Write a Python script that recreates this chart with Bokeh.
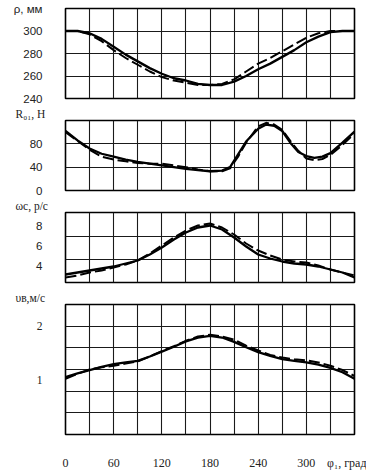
from bokeh.plotting import figure
from bokeh.models import FixedTicker, Range1d, Title
from bokeh.layouts import column
from bokeh.embed import file_html
from bokeh.resources import INLINE

# ---- data ----
phi = [0, 15, 30, 45, 60, 75, 90, 105, 120, 135, 150, 165, 180, 195, 210, 225, 240, 255, 270, 285, 300, 315, 330, 345, 360]

rho_solid = [300, 300, 298, 293, 286, 279, 273, 267, 262, 258, 256, 253, 252, 252, 255, 260, 266, 271, 277, 283, 290, 295, 299, 300, 300]
rho_dash = [300, 300, 297, 291, 283, 276, 270, 264, 259, 256, 254, 252, 252, 253, 257, 264, 271, 276, 282, 288, 294, 298, 300, 300, 300]

phi_r = [0, 15, 30, 45, 60, 75, 90, 105, 120, 135, 150, 165, 180, 195, 205, 215, 225, 240, 250, 260, 270, 280, 290, 300, 310, 320, 330, 345, 360]
r01_solid = [102, 86, 72, 63, 58, 53, 49, 46, 43, 40, 37, 35, 33, 34, 40, 62, 84, 106, 113, 111, 102, 82, 66, 59, 56, 58, 64, 82, 101]
r01_dash = [100, 85, 70, 58, 53, 50, 47, 46, 46, 43, 40, 36, 33, 33, 38, 58, 82, 110, 116, 113, 104, 85, 68, 55, 52, 54, 61, 78, 98]

omega_solid = [3.1, 3.3, 3.5, 3.7, 3.9, 4.2, 4.5, 5.1, 5.8, 6.6, 7.3, 7.8, 8.0, 7.6, 6.8, 5.9, 5.1, 4.7, 4.4, 4.2, 4.1, 3.9, 3.6, 3.3, 2.8]
omega_dash = [2.8, 3.0, 3.3, 3.5, 3.8, 4.1, 4.5, 5.2, 6.0, 6.8, 7.5, 8.0, 8.2, 7.8, 7.1, 6.2, 5.5, 5.0, 4.6, 4.4, 4.3, 4.0, 3.6, 3.3, 3.0]

v_solid = [1.06, 1.13, 1.19, 1.25, 1.30, 1.33, 1.36, 1.44, 1.53, 1.62, 1.72, 1.79, 1.82, 1.79, 1.71, 1.61, 1.52, 1.45, 1.39, 1.36, 1.33, 1.29, 1.23, 1.15, 1.03]
v_dash = [1.03, 1.12, 1.20, 1.24, 1.27, 1.31, 1.35, 1.44, 1.54, 1.63, 1.73, 1.81, 1.84, 1.81, 1.75, 1.64, 1.55, 1.47, 1.42, 1.39, 1.37, 1.33, 1.27, 1.19, 1.08]

x_ticks = [0, 60, 120, 180, 240, 300]
x_grid = [30, 60, 90, 120, 150, 180, 210, 240, 270, 300, 330]
x_title = "φ₁, град"
x_title_at = 351

panels = [
    dict(title="ρ, мм", ys=rho_solid, yd=rho_dash, xs=phi, yr=(240, 320),
         ticks=[240, 260, 280, 300], grid=[260, 280, 300], font="Liberation Sans"),
    dict(title="R₀₁, Н", ys=r01_solid, yd=r01_dash, xs=phi_r, yr=(0, 120),
         ticks=[0, 40, 80], grid=[40, 80], font="Liberation Sans"),
    dict(title="ωc, р/с", ys=omega_solid, yd=omega_dash, xs=phi, yr=(2.3, 9.3),
         ticks=[4, 6, 8], grid=[4.6, 6.95], font="Liberation Sans"),
    dict(title="υв,м/с", ys=v_solid, yd=v_dash, xs=phi, yr=(0, 2.4),
         ticks=[1, 2], grid=[0.4, 0.8, 1.2, 1.6, 2.0], font="Liberation Serif"),
]

# layout (pixels)
W = 366
frame_h = [90, 70, 70, 140]
b_top = [8, 16, 16, 16]
b_bot = [6, 6, 6, 28]

figs = []
x_range = Range1d(0, 360)
for i, pn in enumerate(panels):
    h = frame_h[i] + b_top[i] + b_bot[i]
    p = figure(width=W, height=h, x_range=x_range, y_range=Range1d(*pn["yr"]),
               output_backend="svg", toolbar_location=None, title=None,
               min_border_left=65, min_border_right=12,
               min_border_top=b_top[i], min_border_bottom=b_bot[i])
    p.outline_line_color = "black"
    p.outline_line_width = 1.6
    p.background_fill_color = "white"
    p.border_fill_color = "white"

    p.xgrid.ticker = FixedTicker(ticks=x_grid)
    p.ygrid.ticker = FixedTicker(ticks=pn["grid"])
    for g in (p.xgrid, p.ygrid):
        g.grid_line_color = "#1a1a1a"
        g.grid_line_width = 1.1

    ya = p.yaxis[0]
    ticks = list(pn["ticks"])
    if i == 0:
        top = pn["yr"][1]
        ticks.append(top)
        ya.major_label_overrides = {top: pn["title"]}
    ya.ticker = FixedTicker(ticks=ticks)
    ya.axis_line_color = None
    ya.major_tick_line_color = None
    ya.minor_tick_line_color = None
    ya.major_label_standoff = 17
    ya.major_label_text_font = pn["font"]
    ya.major_label_text_font_size = "11.5px"
    ya.major_label_text_color = "#222222"

    if i > 0:
        t = Title(text=pn["title"], align="left", offset=-50, standoff=0,
                  vertical_align="middle", text_font="Liberation Serif",
                  text_font_size="11.5px", text_font_style="normal", text_color="#222222")
        p.add_layout(t, "above")

    xa = p.xaxis[0]
    if i < 3:
        xa.visible = False
    else:
        xa.ticker = FixedTicker(ticks=x_ticks + [x_title_at])
        xa.major_label_overrides = {x_title_at: x_title}
        xa.axis_line_color = None
        xa.major_tick_line_color = None
        xa.minor_tick_line_color = None
        xa.major_label_standoff = 15
        xa.major_label_text_font = "Liberation Serif"
        xa.major_label_text_font_size = "12px"
        xa.major_label_text_color = "#222222"

    p.line(pn["xs"], pn["ys"], line_color="black", line_width=2.3)
    p.line(pn["xs"], pn["yd"], line_color="black", line_width=2.0, line_dash="11 4")
    figs.append(p)

layout = column(*figs, spacing=0)
open("out.html", "w").write(file_html(layout, INLINE))
